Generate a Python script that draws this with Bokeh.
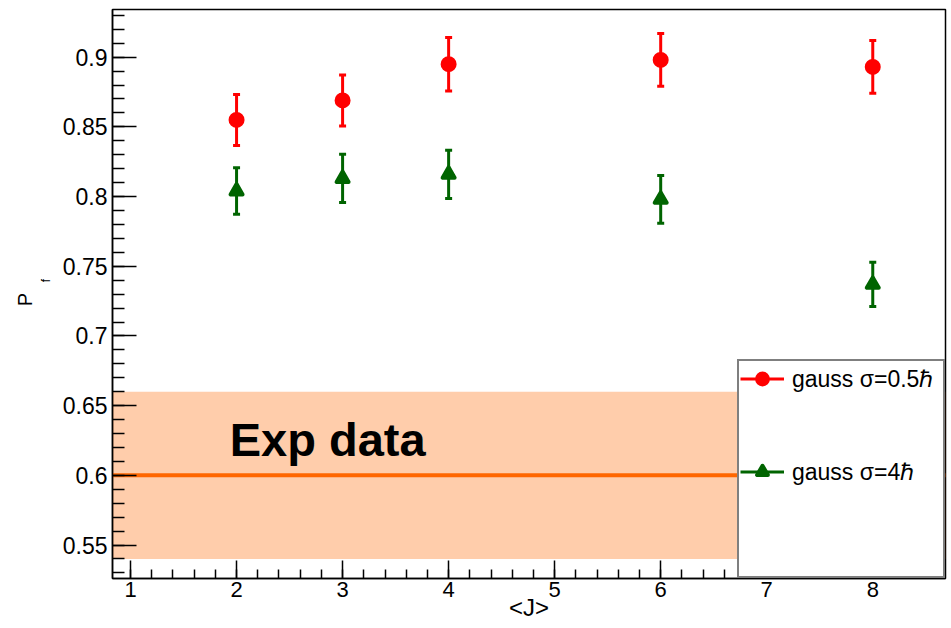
import numpy as np
from bokeh.plotting import figure
from bokeh.models import (Range1d, FixedTicker, Label, Span, BoxAnnotation,
                          Legend, LegendItem, Title)
from bokeh.embed import file_html
from bokeh.resources import INLINE

# ---------------- data ----------------
j_values = [2, 3, 4, 6, 8]
pf_sigma05 = [0.855, 0.869, 0.895, 0.898, 0.893]
err_sigma05 = [0.0183, 0.0183, 0.0192, 0.0189, 0.0189]
pf_sigma4 = [0.804, 0.813, 0.816, 0.798, 0.737]
err_sigma4 = [0.0167, 0.0173, 0.0173, 0.0171, 0.0158]
series_labels = ["gauss σ=0.5ℏ", "gauss σ=4ℏ"]

exp_value = 0.6
exp_low = 0.54
exp_high = 0.66
exp_text = "Exp data"

x_ticks = [1, 2, 3, 4, 5, 6, 7, 8]
x_tick_labels = ["1", "2", "3", "4", "5", "6", "7", "8"]
y_ticks = [0.55, 0.6, 0.65, 0.7, 0.75, 0.8, 0.85, 0.9]
y_tick_labels = ["0.55", "0.6", "0.65", "0.7", "0.75", "0.8", "0.85", "0.9"]
x_title = "<J>"
y_title = "P"
y_title_sub = "f"

NBSP = "\u00a0"

# ---------------- figure ----------------
x_start, x_end = 0.83, 8.686
y_start, y_end = 0.526, 0.9342

p = figure(width=951, height=628, output_backend="svg", toolbar_location=None,
           x_range=Range1d(x_start, x_end), y_range=Range1d(y_start, y_end),
           min_border_left=112, min_border_right=6, min_border_top=9,
           min_border_bottom=50)
p.background_fill_color = "white"
p.border_fill_color = "white"
p.outline_line_color = "black"
p.outline_line_width = 1.5
p.xgrid.visible = False
p.ygrid.visible = False

# experimental band + line
band = BoxAnnotation(bottom=exp_low, top=exp_high, fill_color="#ff6600",
                     fill_alpha=0.33, line_color=None, level="underlay")
p.add_layout(band)
exp_line = Span(location=exp_value, dimension="width", line_color="#ff6600",
                line_width=4, level="underlay")
p.add_layout(exp_line)


def draw_series(y, err, color, marker):
    lo = [a - b for a, b in zip(y, err)]
    hi = [a + b for a, b in zip(y, err)]
    seg = p.segment(x0=j_values, y0=lo, x1=j_values, y1=hi,
                    line_color=color, line_width=3)
    p.scatter(j_values + j_values, lo + hi, marker="dash", size=7,
              line_color=color, line_width=3)
    pts = p.scatter(j_values, y, marker=marker, size=12, fill_color=color,
                    line_color=color, line_width=4, line_join="round")
    return seg, pts


seg_r, pts_r = draw_series(pf_sigma05, err_sigma05, "#ff0000", "circle")
seg_g, pts_g = draw_series(pf_sigma4, err_sigma4, "#006400", "triangle")
dummy = p.scatter([j_values[0]], [pf_sigma05[0]], size=1,
                  fill_alpha=0, line_alpha=0)

# "Exp data" text
p.add_layout(Label(x=1.935, y=0.6256, text=exp_text, text_font="Liberation Sans",
                   text_font_style="bold", text_font_size="47px",
                   text_baseline="middle", text_color="black"))

# axes
p.xaxis.ticker = FixedTicker(ticks=x_ticks,
                             minor_ticks=[round(v, 2) for v in np.arange(0.8, 8.8, 0.2)])
p.xaxis.major_label_overrides = {t: l for t, l in zip(x_ticks, x_tick_labels)}
p.yaxis.ticker = FixedTicker(ticks=y_ticks,
                             minor_ticks=[round(v, 2) for v in np.arange(0.53, 0.94, 0.01)])
p.yaxis.major_label_overrides = {t: l for t, l in zip(y_ticks, y_tick_labels)}

for ax in (p.xaxis[0], p.yaxis[0]):
    ax.axis_line_color = "black"
    ax.axis_line_width = 1.5
    ax.major_tick_line_color = "black"
    ax.major_tick_line_width = 1.5
    ax.minor_tick_line_color = "black"
    ax.minor_tick_line_width = 1.5
    ax.major_tick_out = 0
    ax.minor_tick_out = 0
    ax.major_label_text_font = "Liberation Sans"
    ax.major_label_text_color = "black"
    ax.axis_label_text_font = "Liberation Sans"
    ax.axis_label_text_font_style = "normal"
    ax.axis_label_text_color = "black"
p.xaxis.major_label_text_font_size = "22px"
p.yaxis.major_label_text_font_size = "23px"
p.xaxis.major_tick_in = 18
p.xaxis.minor_tick_in = 9
p.xaxis.major_label_standoff = 3
p.xaxis.axis_label = x_title
p.xaxis.axis_label_text_font_size = "24px"
p.xaxis.axis_label_standoff = -6

p.yaxis.major_tick_in = 24
p.yaxis.minor_tick_in = 12
p.yaxis.major_label_standoff = 5
# subscript "f" sits after the "P" (higher up), shifted with leading no-break spaces
p.yaxis.axis_label = NBSP * 8 + y_title_sub
p.yaxis.axis_label_text_font_size = "12px"
p.yaxis.axis_label_standoff = 7

p.add_layout(Title(text=y_title + NBSP * 2, text_font="Liberation Sans",
                   text_font_size="20px", text_font_style="normal",
                   text_color="black", align="center", standoff=0), "left")

# legend
legend = Legend(items=[
    LegendItem(label=series_labels[0], renderers=[seg_r, pts_r]),
    LegendItem(label=series_labels[1], renderers=[seg_g, pts_g]),
    LegendItem(label=" ", renderers=[dummy]),
], location="bottom_right", margin=0, padding=1, spacing=61,
    glyph_height=27, glyph_width=44, label_height=27, label_standoff=8,
    label_width=150, label_text_font="Liberation Sans",
    label_text_font_size="23px", label_text_color="black",
    border_line_color="black", border_line_width=2,
    background_fill_color="white", background_fill_alpha=1.0)
p.add_layout(legend)

open("out.html", "w").write(file_html(p, INLINE))
